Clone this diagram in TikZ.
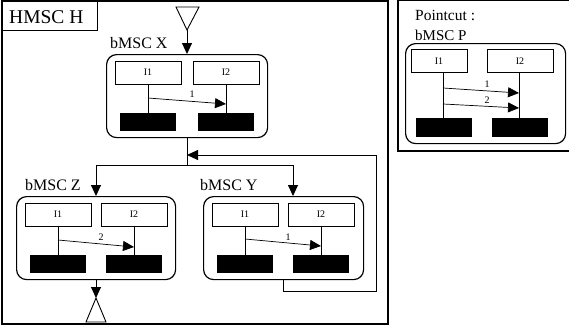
\documentclass[tikz,border=0pt]{standalone}
\usepackage{fontspec}
\setmainfont{Liberation Serif}
\usetikzlibrary{arrows.meta}
\tikzset{
  frame/.style={draw, line width=1.2pt},
  mscbox/.style={draw, rounded corners=10pt, line width=1.2pt},
  inst/.style={draw, line width=0.9pt, minimum width=66pt, minimum height=23pt, inner sep=0pt, font=\fontsize{10}{11}\selectfont},
  stopbox/.style={fill=black, minimum width=56pt, minimum height=18pt, inner sep=0pt},
  life/.style={line width=0.9pt},
  msg/.style={line width=0.7pt, -{Triangle[length=11pt,width=10pt]}},
  flow/.style={line width=0.9pt, -{Triangle[length=11pt,width=10pt]}},
  conn/.style={line width=0.9pt},
  mlabel/.style={font=\fontsize{10}{11}\selectfont, inner sep=0pt},
  title/.style={font=\fontsize{16}{18}\selectfont, inner sep=0pt, anchor=west},
}
\newcommand\mscparts[4]{%
  \node[inst] (#1i1) at (#2,#4+18.5) {I1};
  \node[inst] (#1i2) at (#3,#4+18.5) {I2};
  \node[stopbox] (#1e1) at (#2,#4+68) {};
  \node[stopbox] (#1e2) at (#3,#4+68) {};
  \draw[life] (#1i1.south) -- (#1e1.north);
  \draw[life] (#1i2.south) -- (#1e2.north);
}
\begin{document}
\begin{tikzpicture}[x=1pt,y=-1pt]
\useasboundingbox (0,0) rectangle (569,332);
% main frame
\draw[frame] (2,1) rectangle (388,324);
\node[frame, anchor=north west, minimum width=95pt, minimum height=29pt, inner sep=0pt] (hl) at (2,1) {};
\node[font=\fontsize{19.5}{22}\selectfont, inner sep=0pt, anchor=west] (ht) at (9,17) {HMSC H};
% pointcut frame
\draw[frame] (398,0.5) rectangle (571,151);
\node[title, font=\fontsize{15.5}{17}\selectfont] (pt) at (415,15) {Pointcut :};
\node[title, font=\fontsize{15}{17}\selectfont] (pl) at (415,35) {bMSC P};

% bMSC X
\node[mscbox, anchor=north west, minimum width=161pt, minimum height=83pt, inner sep=0pt] (X) at (106,54) {};
\node[title] (xl) at (110,43) {bMSC X};
\mscparts{x}{148}{226}{54}
\coordinate (xm1) at (148,98); \coordinate (xm2) at (226,104);
\draw[msg] (xm1) -- (xm2);
\node[mlabel] (xn) at (192,94) {1};

% bMSC Z
\node[mscbox, anchor=north west, minimum width=159pt, minimum height=83pt, inner sep=0pt] (Z) at (16,196) {};
\node[title] (zl) at (25,185) {bMSC Z};
\mscparts{z}{58}{134}{196}
\coordinate (zm1) at (58,240); \coordinate (zm2) at (134,247);
\draw[msg] (zm1) -- (zm2);
\node[mlabel] (zn) at (101,237) {2};

% bMSC Y
\node[mscbox, anchor=north west, minimum width=160pt, minimum height=83pt, inner sep=0pt] (Y) at (203,196) {};
\node[title] (yl) at (200,185) {bMSC Y};
\mscparts{y}{245}{321}{196}
\coordinate (ym1) at (245,239); \coordinate (ym2) at (321,246);
\draw[msg] (ym1) -- (ym2);
\node[mlabel] (yn) at (288,237) {1};

% bMSC P
\node[mscbox, anchor=north west, minimum width=160pt, minimum height=100pt, inner sep=0pt] (P) at (405,43) {};
\node[inst, minimum width=56pt] (pi1) at (439,61) {I1};
\node[inst] (pi2) at (520,61) {I2};
\node[stopbox, minimum height=19pt] (pe1) at (443.5,127.5) {};
\node[stopbox, minimum height=19pt] (pe2) at (519.5,127.5) {};
\coordinate (pa1) at (443,73); \coordinate (pb1) at (443,118);
\coordinate (pa2) at (519,73); \coordinate (pb2) at (519,118);
\draw[life] (pa1) -- (pb1);
\draw[life] (pa2) -- (pb2);
\coordinate (pm1) at (443,88); \coordinate (pm2) at (519,93);
\coordinate (pm3) at (443,104); \coordinate (pm4) at (519,108);
\draw[msg] (pm1) -- (pm2);
\draw[msg] (pm3) -- (pm4);
\node[mlabel] (pn1) at (487,84) {1};
\node[mlabel] (pn2) at (487,100) {2};

% start symbol
\coordinate (s1) at (176,7); \coordinate (s2) at (199,7); \coordinate (s3) at (187,30);
\draw[conn] (s1) -- (s2) -- (s3) -- cycle;
\draw[flow] (s3) -- (s3 |- X.north);

% split
\coordinate (sp) at (187,165);
\draw[conn] (X.south -| sp) -- (sp);
\coordinate (zt) at (96,196);
\coordinate (yt) at (293,196);
\draw[flow] (sp) -| (zt);
\draw[flow] (sp) -| (yt);

% loop
\coordinate (lb) at (283,291);
\coordinate (lr) at (376,155);
\coordinate (lt) at (187,155);
\draw[flow] (lb |- Y.south) -- (lb) -| (lr) -- (lt);

% end symbol
\coordinate (e1) at (96,298); \coordinate (e2) at (86,322); \coordinate (e3) at (106,322);
\draw[flow] (Z.south -| e1) -- (e1);
\draw[conn] (e1) -- (e2) -- (e3) -- cycle;
\end{tikzpicture}
\end{document}
